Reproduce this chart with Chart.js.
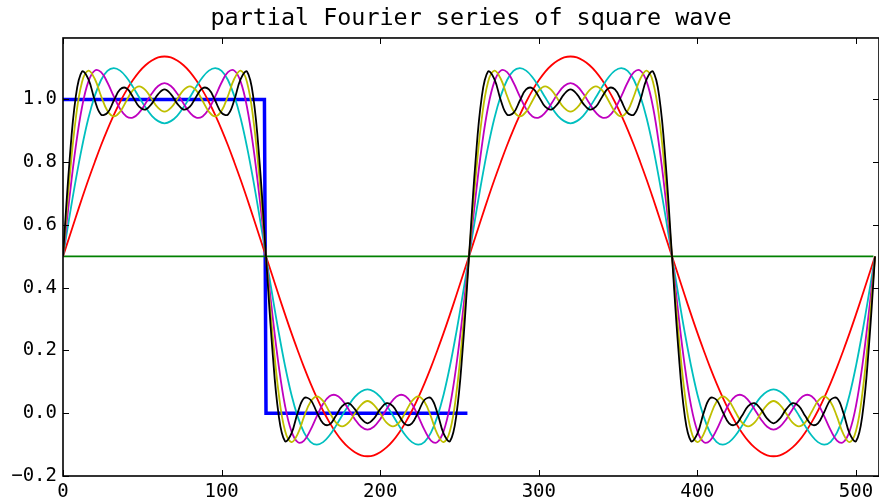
<!DOCTYPE html>
<html>
<head>
<meta charset="utf-8">
<script src="https://cdn.jsdelivr.net/npm/chart.js@4/dist/chart.umd.min.js"></script>
<style>
html,body{margin:0;padding:0;background:#fff;overflow:hidden;}
#wrap{width:879px;height:502px;position:relative;}
</style>
</head>
<body>
<div id="wrap"><canvas id="c"></canvas></div>
<script>
// sample positions (x) of the partial-sum curves
const xs = [0,4,8,12,16,20,24,28,32,36,40,44,48,52,56,60,64,68,72,76,80,84,88,92,96,100,104,108,112,116,120,124,128,132,136,140,144,148,152,156,160,164,168,172,176,180,184,188,192,196,200,204,208,212,216,220,224,228,232,236,240,244,248,252,256,260,264,268,272,276,280,284,288,292,296,300,304,308,312,316,320,324,328,332,336,340,344,348,352,356,360,364,368,372,376,380,384,388,392,396,400,404,408,412,416,420,424,428,432,436,440,444,448,452,456,460,464,468,472,476,480,484,488,492,496,500,504,508,512];

// square wave (blue)
const squareX = [0,127,128,255];
const squareY = [1,1,0,0];

// constant term (green)
const dcX = [0,511];
const dcY = [0.5,0.5];

// 1 harmonic (red)
const red = [
0.5,0.562,0.624,0.685,0.744,0.800,0.854,0.904,0.950,0.992,1.029,1.061,1.088,1.109,1.124,1.134,1.137,
1.134,1.124,1.109,1.088,1.061,1.029,0.992,0.950,0.904,0.854,0.800,0.744,0.685,0.624,0.562,0.5,
0.438,0.376,0.315,0.256,0.200,0.146,0.096,0.050,0.008,-0.029,-0.061,-0.088,-0.109,-0.124,-0.134,-0.137,
-0.134,-0.124,-0.109,-0.088,-0.061,-0.029,0.008,0.050,0.096,0.146,0.200,0.256,0.315,0.376,0.438,0.5,
0.562,0.624,0.685,0.744,0.800,0.854,0.904,0.950,0.992,1.029,1.061,1.088,1.109,1.124,1.134,1.137,
1.134,1.124,1.109,1.088,1.061,1.029,0.992,0.950,0.904,0.854,0.800,0.744,0.685,0.624,0.562,0.5,
0.438,0.376,0.315,0.256,0.200,0.146,0.096,0.050,0.008,-0.029,-0.061,-0.088,-0.109,-0.124,-0.134,-0.137,
-0.134,-0.124,-0.109,-0.088,-0.061,-0.029,0.008,0.050,0.096,0.146,0.200,0.256,0.315,0.376,0.438,0.5];

// 2 harmonics (cyan)
const cyan = [
0.5,0.624,0.742,0.849,0.940,1.011,1.062,1.091,1.100,1.092,1.071,1.041,1.007,0.975,0.948,0.931,0.924,
0.931,0.948,0.975,1.007,1.041,1.071,1.092,1.100,1.091,1.062,1.011,0.940,0.849,0.742,0.624,0.5,
0.376,0.258,0.151,0.060,-0.011,-0.062,-0.091,-0.100,-0.092,-0.071,-0.041,-0.007,0.025,0.052,0.069,0.076,
0.069,0.052,0.025,-0.007,-0.041,-0.071,-0.092,-0.100,-0.091,-0.062,-0.011,0.060,0.151,0.258,0.376,0.5,
0.624,0.742,0.849,0.940,1.011,1.062,1.091,1.100,1.092,1.071,1.041,1.007,0.975,0.948,0.931,0.924,
0.931,0.948,0.975,1.007,1.041,1.071,1.092,1.100,1.091,1.062,1.011,0.940,0.849,0.742,0.624,0.5,
0.376,0.258,0.151,0.060,-0.011,-0.062,-0.091,-0.100,-0.092,-0.071,-0.041,-0.007,0.025,0.052,0.069,0.076,
0.069,0.052,0.025,-0.007,-0.041,-0.071,-0.092,-0.100,-0.091,-0.062,-0.011,0.060,0.151,0.258,0.376,0.5];

// 3 harmonics (magenta)
const magenta = [
0.5,0.684,0.848,0.976,1.057,1.092,1.087,1.054,1.010,0.970,0.946,0.942,0.958,0.987,1.019,1.043,1.052,
1.043,1.019,0.987,0.958,0.942,0.946,0.970,1.010,1.054,1.087,1.092,1.057,0.976,0.848,0.684,0.5,
0.316,0.152,0.024,-0.057,-0.092,-0.087,-0.054,-0.010,0.030,0.054,0.058,0.042,0.013,-0.019,-0.043,-0.052,
-0.043,-0.019,0.013,0.042,0.058,0.054,0.030,-0.010,-0.054,-0.087,-0.092,-0.057,0.024,0.152,0.316,0.5,
0.684,0.848,0.976,1.057,1.092,1.087,1.054,1.010,0.970,0.946,0.942,0.958,0.987,1.019,1.043,1.052,
1.043,1.019,0.987,0.958,0.942,0.946,0.970,1.010,1.054,1.087,1.092,1.057,0.976,0.848,0.684,0.5,
0.316,0.152,0.024,-0.057,-0.092,-0.087,-0.054,-0.010,0.030,0.054,0.058,0.042,0.013,-0.019,-0.043,-0.052,
-0.043,-0.019,0.013,0.042,0.058,0.054,0.030,-0.010,-0.054,-0.087,-0.092,-0.057,0.024,0.152,0.316,0.5];

// 4 harmonics (yellow)
const yellow = [
0.5,0.742,0.937,1.056,1.092,1.066,1.011,0.964,0.946,0.961,0.996,1.029,1.042,1.030,1.001,0.973,0.961,
0.973,1.001,1.030,1.042,1.029,0.996,0.961,0.946,0.964,1.011,1.066,1.092,1.056,0.937,0.742,0.5,
0.258,0.063,-0.056,-0.092,-0.066,-0.011,0.036,0.054,0.039,0.004,-0.029,-0.042,-0.030,-0.001,0.027,0.039,
0.027,-0.001,-0.030,-0.042,-0.029,0.004,0.039,0.054,0.036,-0.011,-0.066,-0.092,-0.056,0.063,0.258,0.5,
0.742,0.937,1.056,1.092,1.066,1.011,0.964,0.946,0.961,0.996,1.029,1.042,1.030,1.001,0.973,0.961,
0.973,1.001,1.030,1.042,1.029,0.996,0.961,0.946,0.964,1.011,1.066,1.092,1.056,0.937,0.742,0.5,
0.258,0.063,-0.056,-0.092,-0.066,-0.011,0.036,0.054,0.039,0.004,-0.029,-0.042,-0.030,-0.001,0.027,0.039,
0.027,-0.001,-0.030,-0.042,-0.029,0.004,0.039,0.054,0.036,-0.011,-0.066,-0.092,-0.056,0.063,0.258,0.5];

// 5 harmonics (black)
const black = [
0.5,0.796,1.007,1.089,1.065,0.998,0.952,0.957,0.996,1.032,1.036,1.009,0.977,0.968,0.987,1.017,1.032,
1.017,0.987,0.968,0.977,1.009,1.036,1.032,0.996,0.957,0.952,0.998,1.065,1.089,1.007,0.796,0.5,
0.204,-0.007,-0.089,-0.065,0.002,0.048,0.043,0.004,-0.032,-0.036,-0.009,0.023,0.032,0.013,-0.017,-0.032,
-0.017,0.013,0.032,0.023,-0.009,-0.036,-0.032,0.004,0.043,0.048,0.002,-0.065,-0.089,-0.007,0.204,0.5,
0.796,1.007,1.089,1.065,0.998,0.952,0.957,0.996,1.032,1.036,1.009,0.977,0.968,0.987,1.017,1.032,
1.017,0.987,0.968,0.977,1.009,1.036,1.032,0.996,0.957,0.952,0.998,1.065,1.089,1.007,0.796,0.5,
0.204,-0.007,-0.089,-0.065,0.002,0.048,0.043,0.004,-0.032,-0.036,-0.009,0.023,0.032,0.013,-0.017,-0.032,
-0.017,0.013,0.032,0.023,-0.009,-0.036,-0.032,0.004,0.043,0.048,0.002,-0.065,-0.089,-0.007,0.204,0.5];

const xTicks = [0,100,200,300,400,500];
const yTicks = [-0.2,0.0,0.2,0.4,0.6,0.8,1.0];
const titleText = 'partial Fourier series of square wave';

const pts = (X, Y) => X.map((x, i) => ({x: x, y: Y[i]}));
const MONO = "'DejaVu Sans Mono', 'Liberation Mono', monospace";

const frame = {
  id: 'frame',
  afterDatasetsDraw(chart) {
    const {ctx, chartArea: a, scales} = chart;
    const sx = scales.x, sy = scales.y;
    ctx.save();
    ctx.strokeStyle = '#000';
    ctx.lineWidth = 1;
    ctx.beginPath();
    xTicks.forEach(v => {
      const px = Math.round(sx.getPixelForValue(v)) + 0.5;
      ctx.moveTo(px, a.bottom); ctx.lineTo(px, a.bottom - 6);
      ctx.moveTo(px, a.top); ctx.lineTo(px, a.top + 6);
    });
    yTicks.forEach(v => {
      const py = Math.round(sy.getPixelForValue(v)) + 0.5;
      ctx.moveTo(a.left, py); ctx.lineTo(a.left + 6, py);
      ctx.moveTo(a.right, py); ctx.lineTo(a.right - 6, py);
    });
    ctx.stroke();
    ctx.lineWidth = 1.6;
    ctx.strokeRect(a.left, a.top, a.right - a.left, a.bottom - a.top);
    ctx.restore();
  }
};

const curve = (data, color, order) => ({
  data: pts(xs, data), borderColor: color, borderWidth: 1.8, pointRadius: 0,
  tension: 0.4, fill: false, order: order
});

new Chart(document.getElementById('c'), {
  type: 'line',
  data: {
    datasets: [
      {data: pts(squareX, squareY), borderColor: '#0000ff', borderWidth: 3.5, pointRadius: 0, tension: 0, order: 6},
      {data: pts(dcX, dcY), borderColor: '#008000', borderWidth: 1.6, pointRadius: 0, tension: 0, order: 5},
      curve(red, '#ff0000', 4),
      curve(cyan, '#00bfbf', 3),
      curve(magenta, '#bf00bf', 2),
      curve(yellow, '#bfbf00', 1),
      curve(black, '#000000', 0)
    ]
  },
  options: {
    responsive: true,
    maintainAspectRatio: false,
    animation: false,
    layout: {padding: {left: 0, right: -1, top: 0, bottom: 0}},
    plugins: {
      legend: {display: false},
      tooltip: {enabled: false},
      title: {
        display: true, text: titleText, fullSize: false, color: '#000',
        font: {family: MONO, size: 23.4, weight: 'normal', lineHeight: 1.2},
        padding: {top: 5, bottom: 4.9}
      }
    },
    scales: {
      x: {
        type: 'linear', min: 0, max: 514.5,
        grid: {display: false, drawTicks: false},
        border: {display: false},
        afterBuildTicks: s => { s.ticks = xTicks.map(v => ({value: v})); },
        afterFit: s => { s.height = 26; },
        ticks: {
          autoSkip: false, maxRotation: 0, padding: 5, color: '#000',
          font: {family: MONO, size: 19},
          callback: v => String(v)
        }
      },
      y: {
        type: 'linear', min: -0.2, max: 1.196,
        grid: {display: false, drawTicks: false},
        border: {display: false},
        afterBuildTicks: s => { s.ticks = yTicks.map(v => ({value: v})); },
        afterFit: s => { s.width = 63; },
        ticks: {
          autoSkip: false, padding: 6, color: '#000',
          font: {family: MONO, size: 19},
          callback: v => Number(v).toFixed(1).replace('-', '\u2212')
        }
      }
    }
  },
  plugins: [frame]
});
</script>
</body>
</html>
